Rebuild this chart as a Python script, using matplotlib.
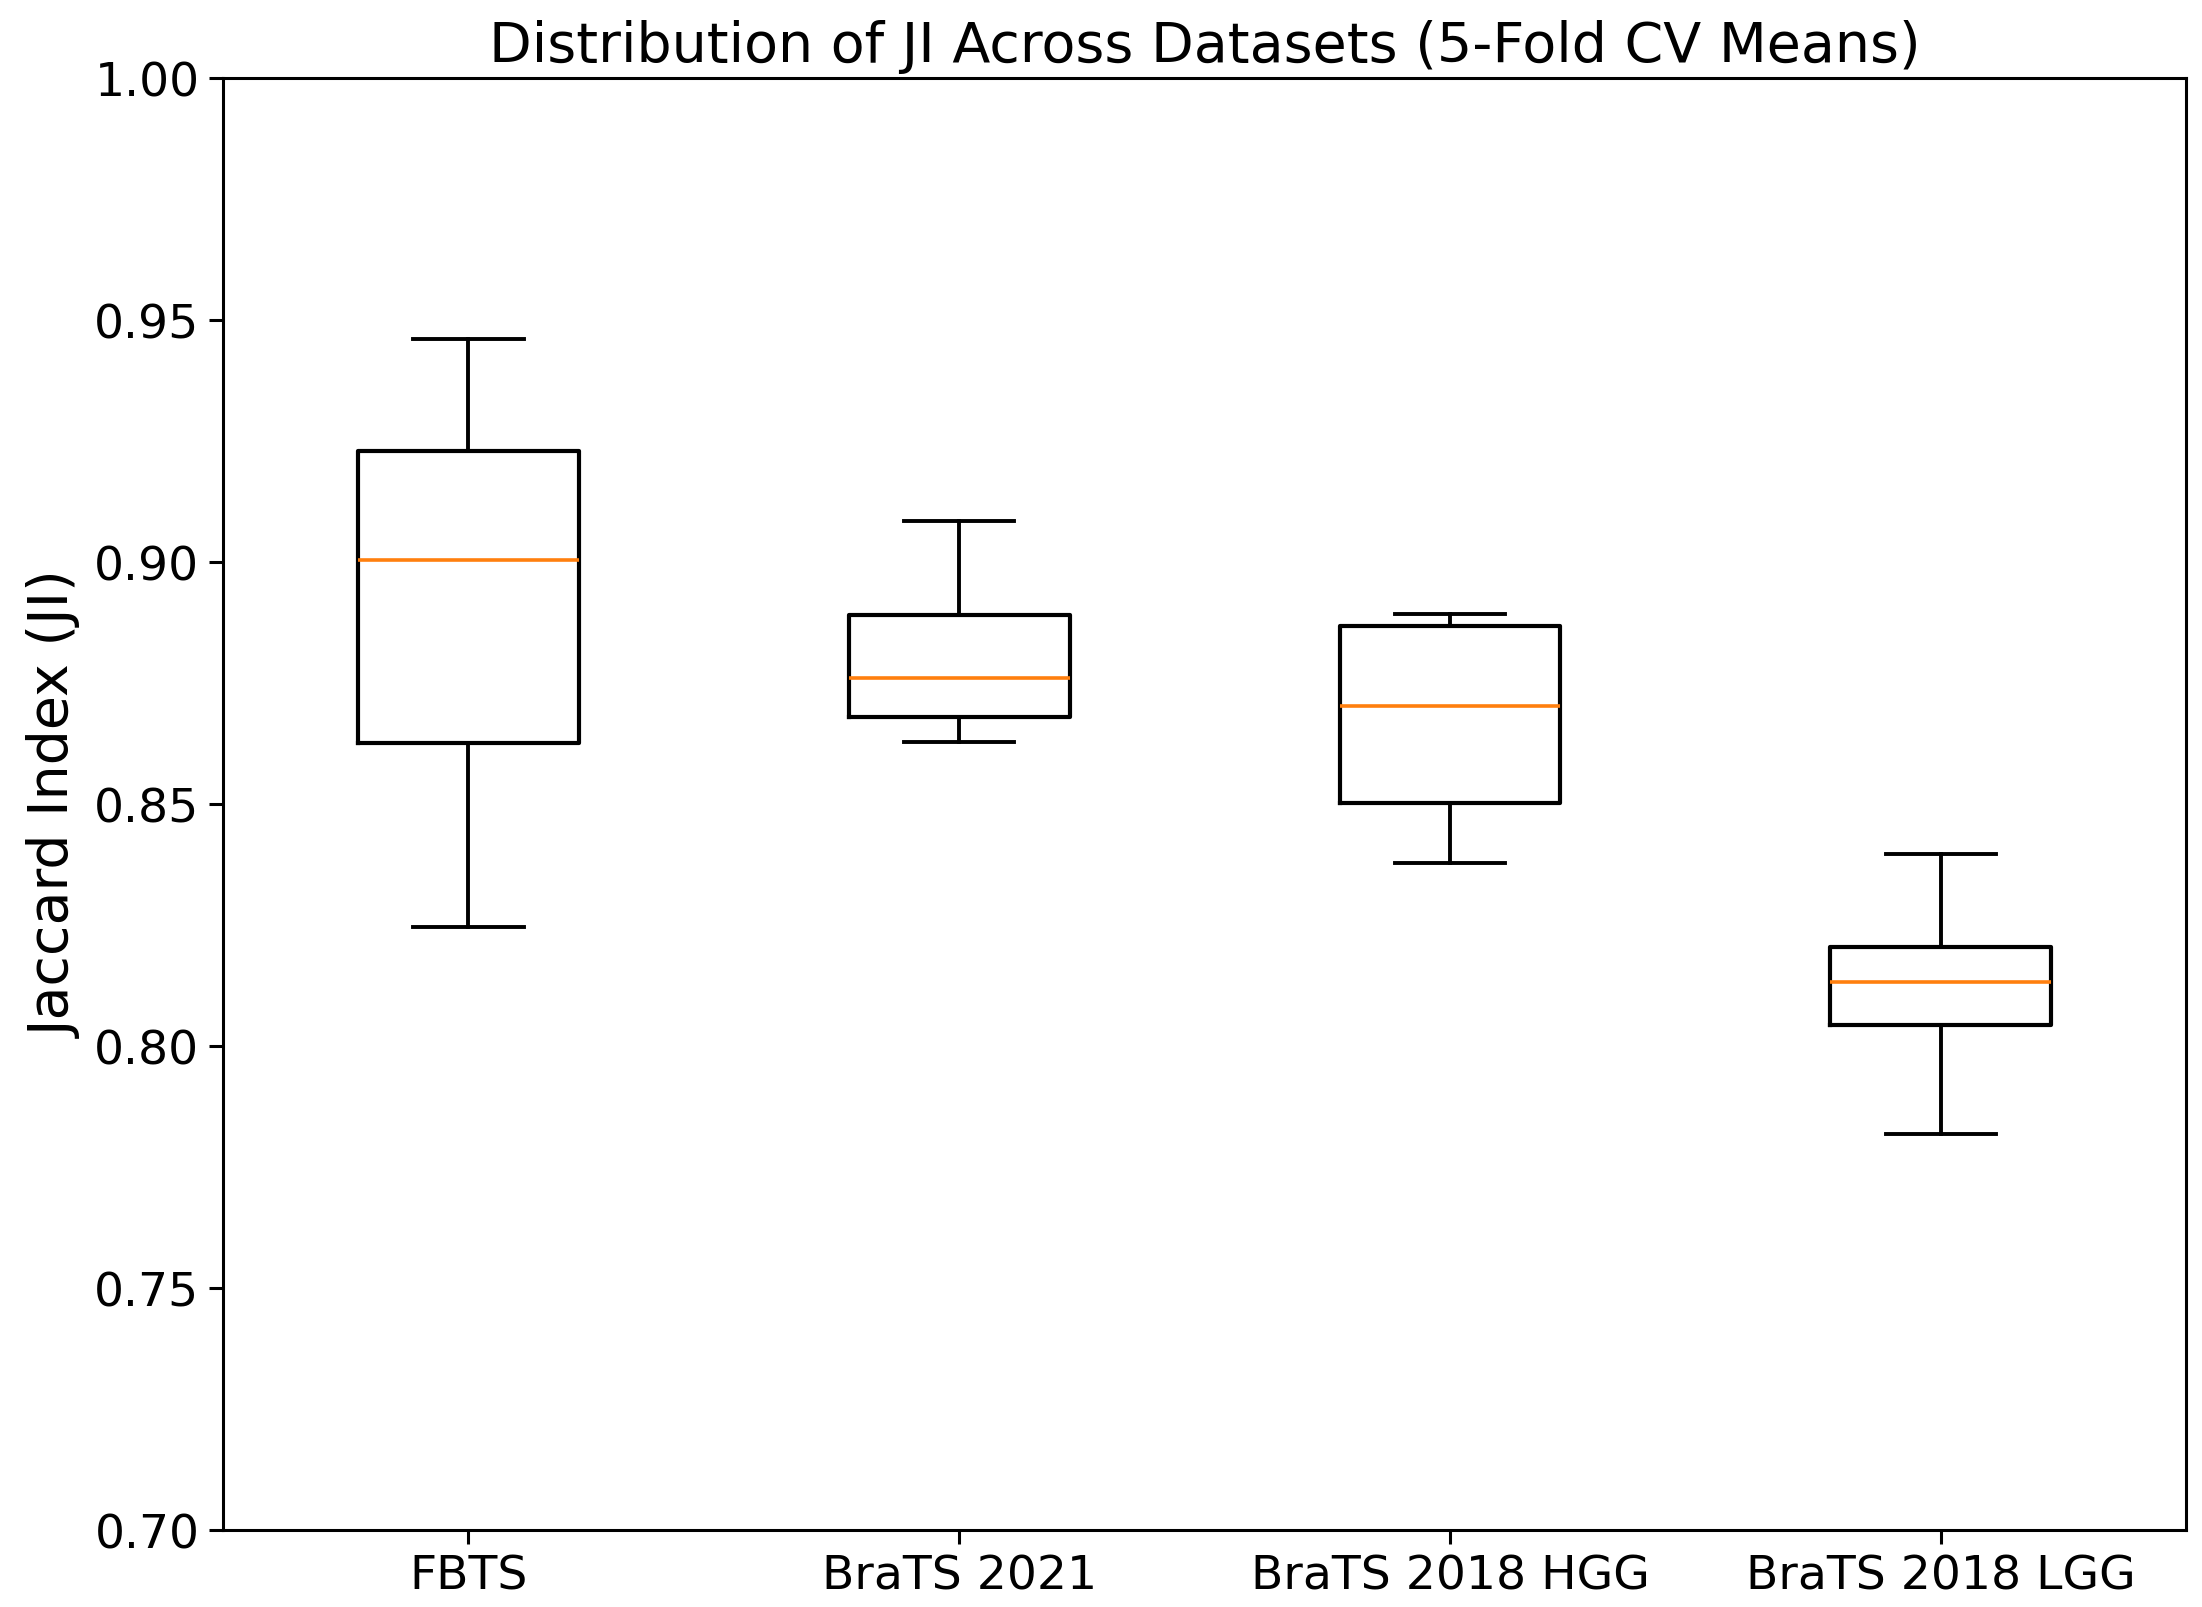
import matplotlib
matplotlib.use("Agg")
import matplotlib.pyplot as plt

plt.rcParams['axes.linewidth'] = 1.1

# 5-fold CV mean JI per dataset
datasets = ['FBTS', 'BraTS 2021', 'BraTS 2018 HGG', 'BraTS 2018 LGG']
ji_fbts = [0.8246, 0.8626, 0.9004, 0.9230, 0.9460]
ji_brats2021 = [0.8629, 0.8679, 0.8760, 0.8891, 0.9085]
ji_hgg = [0.8377, 0.8501, 0.8702, 0.8867, 0.8893]
ji_lgg = [0.7819, 0.8043, 0.8133, 0.8205, 0.8397]

fig = plt.figure(figsize=(11.01, 8.04), dpi=200)
ax = fig.add_axes([0.1013, 0.0479, 0.8915, 0.903])

ax.boxplot([ji_fbts, ji_brats2021, ji_hgg, ji_lgg], tick_labels=datasets, widths=0.45,
           boxprops=dict(linewidth=1.5, color='black'),
           whiskerprops=dict(linewidth=1.4, color='black'),
           capprops=dict(linewidth=1.4, color='black'),
           medianprops=dict(linewidth=1.3, color='#ff7f0e'))

ax.set_ylim(0.70, 1.00)
ax.set_yticks([0.70, 0.75, 0.80, 0.85, 0.90, 0.95, 1.00])
ax.set_yticklabels([f"{v:.2f}" for v in [0.70, 0.75, 0.80, 0.85, 0.90, 0.95, 1.00]])
ax.tick_params(axis='both', labelsize=17, length=5, width=1.1)
ax.set_ylabel("Jaccard Index (JI)", fontsize=20)
ax.set_title("Distribution of JI Across Datasets (5-Fold CV Means)", fontsize=20)

fig.savefig("out.png", dpi=200)
